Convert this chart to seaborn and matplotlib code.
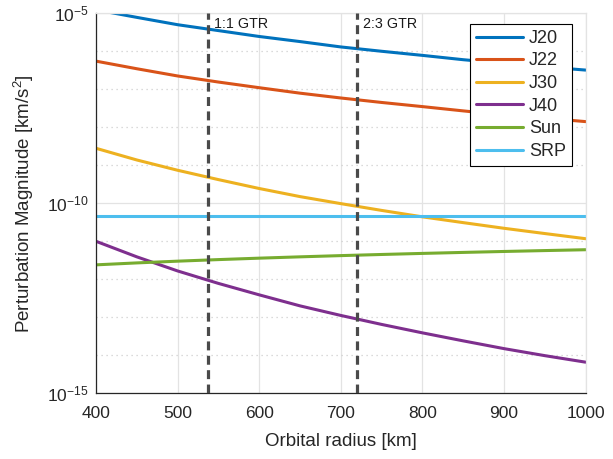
import numpy as np
import pandas as pd
import matplotlib
matplotlib.use('Agg')
import matplotlib.pyplot as plt
import matplotlib.ticker as mticker
import seaborn as sns

# values (km/s^2)
radius = [400, 450, 500, 550, 600, 650, 700, 750, 800, 850, 900, 950, 1000]
j20 = [1.23e-5, 7.8e-6, 5.0e-6, 3.5e-6, 2.45e-6, 1.8e-6, 1.3e-6, 1.0e-6, 7.8e-7, 6.0e-7, 4.8e-7, 3.9e-7, 3.2e-7]
j22 = [5.5e-7, 3.47e-7, 2.24e-7, 1.55e-7, 1.1e-7, 7.9e-8, 5.9e-8, 4.5e-8, 3.5e-8, 2.7e-8, 2.1e-8, 1.74e-8, 1.41e-8]
j30 = [2.8e-9, 1.38e-9, 7.4e-10, 4.2e-10, 2.45e-10, 1.5e-10, 9.8e-11, 6.5e-11, 4.4e-11, 3.1e-11, 2.2e-11, 1.6e-11, 1.17e-11]
j40 = [1.0e-11, 3.9e-12, 1.66e-12, 7.8e-13, 3.9e-13, 2.0e-13, 1.12e-13, 6.5e-14, 3.9e-14, 2.4e-14, 1.5e-14, 9.8e-15, 6.6e-15]
sun = [2.4e-12, 2.7e-12, 3.0e-12, 3.3e-12, 3.6e-12, 3.9e-12, 4.2e-12, 4.5e-12, 4.8e-12, 5.1e-12, 5.4e-12, 5.7e-12, 6.0e-12]
srp = [4.6e-11] * len(radius)

names = ["J20", "J22", "J30", "J40", "Sun", "SRP"]
colors = ["#0072BD", "#D95319", "#EDB120", "#7E2F8E", "#77AC30", "#4DBEEE"]
gtr_r = [537, 720]
gtr_labels = ["1:1 GTR", "2:3 GTR"]

series = [j20, j22, j30, j40, sun, srp]
df = pd.concat([pd.DataFrame({"r": radius, "a": s, "term": n}) for n, s in zip(names, series)])

sns.set_style("white")
plt.rcParams['font.family'] = ['Liberation Sans', 'DejaVu Sans']
plt.rcParams['mathtext.fontset'] = 'custom'
plt.rcParams['mathtext.rm'] = 'Liberation Sans'
plt.rcParams['mathtext.it'] = 'Liberation Sans'

fig = plt.figure(figsize=(6.13, 4.59), dpi=100)
ax = fig.add_axes([0.1566, 0.1431, 0.7987, 0.828])

sns.lineplot(data=df, x="r", y="a", hue="term", palette=colors, linewidth=2.2, ax=ax, legend=False)

for r, lab in zip(gtr_r, gtr_labels):
    ax.axvline(r, color="#4a4a4a", lw=2.3, ls=(0, (2.8, 1.7)), zorder=5)
    ax.text(r + 7, 1.0e-5 * 10 ** (-0.27), lab, fontsize=10.3, va="center", ha="left", color="#1a1a1a")

ax.set_yscale("log")
ax.set_xlim(400, 1000)
ax.set_ylim(1e-15, 1e-5)
ax.set_xticks([400, 500, 600, 700, 800, 900, 1000])
ax.yaxis.set_major_locator(mticker.FixedLocator([1e-15, 1e-10, 1e-5]))
ax.yaxis.set_minor_locator(mticker.FixedLocator([10.0 ** k for k in range(-14, -5) if k != -10]))
ax.yaxis.set_minor_formatter(mticker.NullFormatter())
ax.yaxis.set_major_formatter(mticker.LogFormatterSciNotation())

ax.grid(True, which="major", color="#e3e3e3", lw=0.9)
ax.grid(True, which="minor", axis="y", color="#cfcfcf", lw=0.9, ls=(0, (1, 3)))
ax.set_axisbelow(True)

ax.tick_params(axis="both", which="major", direction="in", length=5, width=0.8, labelsize=12.5, color="#262626")
ax.tick_params(axis="y", which="minor", direction="in", length=3, width=0.7, color="#262626")
ax.tick_params(axis="x", pad=9)
ax.tick_params(axis="y", pad=5)
for side in ["left", "bottom"]:
    ax.spines[side].set_color("#262626")
    ax.spines[side].set_linewidth(0.9)
for side in ["top", "right"]:
    ax.spines[side].set_color("#e3e3e3")
    ax.spines[side].set_linewidth(0.9)

ax.set_xlabel("Orbital radius [km]", fontsize=13.5, labelpad=9)
ax.set_ylabel("Perturbation Magnitude [km/s$^2$]", fontsize=13.5, labelpad=8)

handles = [plt.Line2D([], [], color=c, lw=2.2) for c in colors]
leg = ax.legend(handles, names, loc="upper right", bbox_to_anchor=(0.9725, 0.972), fontsize=13,
                frameon=True, fancybox=False, edgecolor="black", framealpha=1,
                handlelength=2.6, handletextpad=0.35, labelspacing=0.31, borderpad=0.33, borderaxespad=0)
leg.get_frame().set_linewidth(0.8)

plt.savefig("out.png", dpi=100)
